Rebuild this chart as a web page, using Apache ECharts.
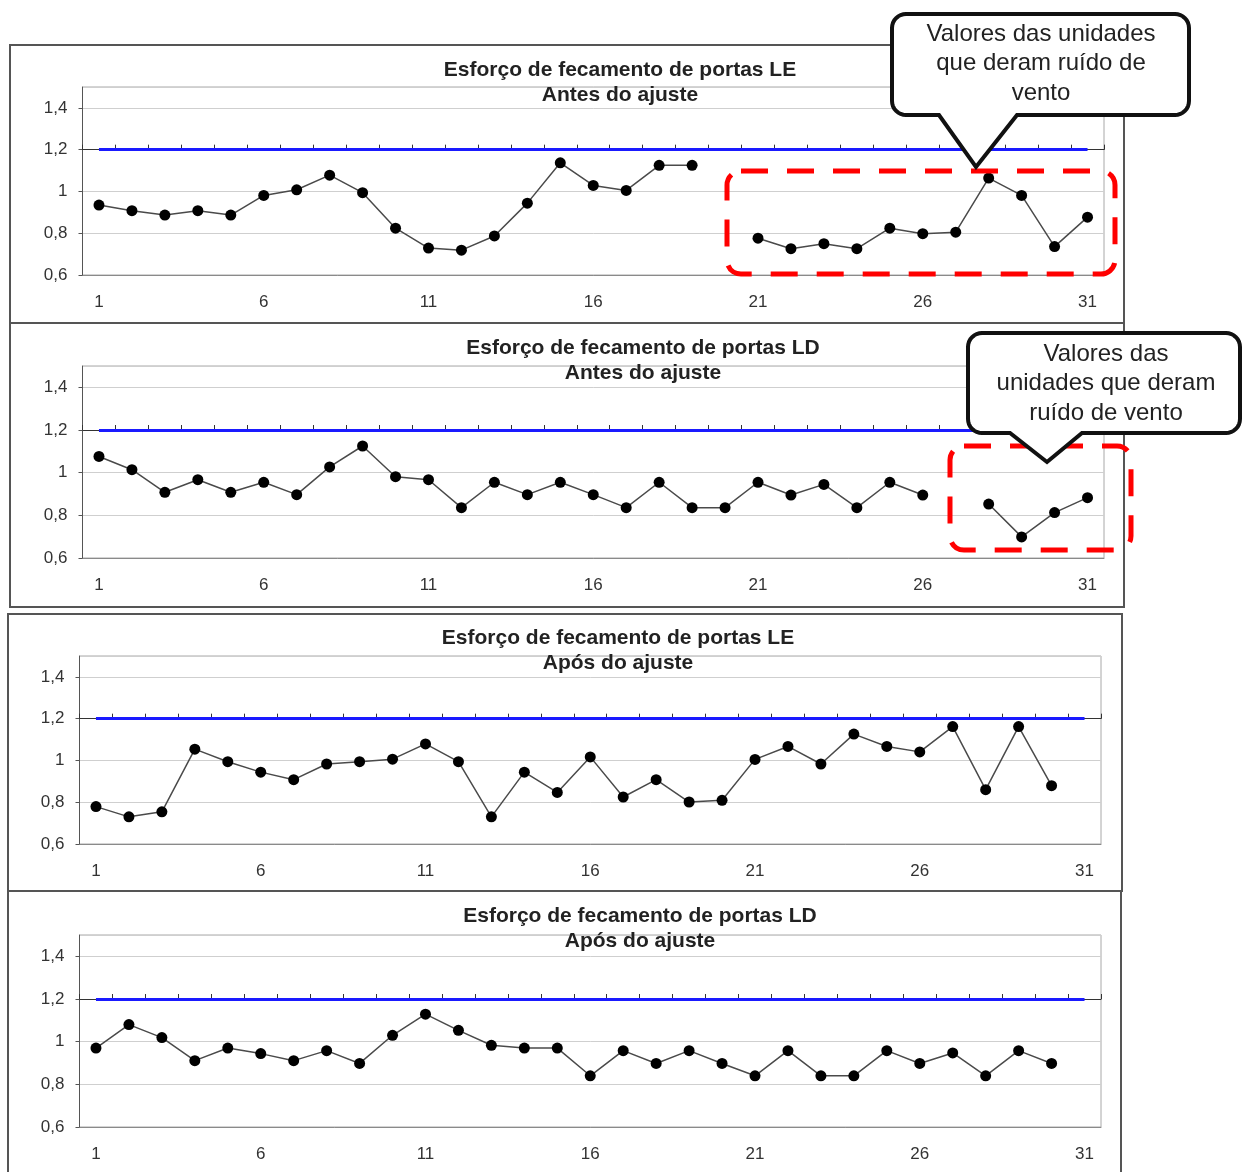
<!DOCTYPE html>
<html>
<head>
<meta charset="utf-8">
<script src="https://cdn.jsdelivr.net/npm/echarts@6/dist/echarts.min.js"></script>
<style>
  html, body { margin: 0; padding: 0; background: #fff; }
  #chart { width: 1242px; height: 1172px; }
</style>
</head>
<body>
<div id="chart"></div>
<script>
// ---------- data ----------
const CATS = ['1','2','3','4','5','6','7','8','9','10','11','12','13','14','15','16','17','18','19','20','21','22','23','24','25','26','27','28','29','30','31'];
const Y_MIN = 0.6, Y_MAX = 1.5, Y_STEP = 0.2;
const LIMIT = 1.2;

const LE_ANTES = [0.935,0.908,0.887,0.908,0.887,0.981,1.008,1.078,0.994,0.824,0.729,0.719,0.787,0.944,1.137,1.029,1.005,1.125,1.125,null,0.776,0.726,0.750,0.726,0.824,0.798,0.805,1.064,0.981,0.736,0.877];
const LD_ANTES = [1.076,1.014,0.908,0.967,0.908,0.955,0.897,1.027,1.125,0.981,0.967,0.836,0.955,0.897,0.955,0.897,0.836,0.955,0.836,0.836,0.955,0.895,0.945,0.836,0.955,0.895,null,0.853,0.699,0.813,0.883];
const LE_APOS  = [0.779,0.730,0.754,1.054,0.994,0.944,0.908,0.983,0.994,1.006,1.079,0.994,0.730,0.944,0.847,1.017,0.825,0.908,0.801,0.809,1.005,1.067,0.983,1.126,1.067,1.041,1.162,0.860,1.162,0.879,null];
const LD_APOS  = [0.970,1.080,1.019,0.911,0.970,0.944,0.911,0.958,0.898,1.030,1.129,1.053,0.983,0.970,0.970,0.840,0.958,0.898,0.958,0.898,0.840,0.958,0.840,0.840,0.958,0.898,0.947,0.840,0.958,0.898,null];

const TITLES = [
  ['Esforço de fecamento de portas LE', 'Antes do ajuste'],
  ['Esforço de fecamento de portas LD', 'Antes do ajuste'],
  ['Esforço de fecamento de portas LE', 'Após do ajuste'],
  ['Esforço de fecamento de portas LD', 'Após do ajuste']
];
const CALLOUT_1 = ['Valores das unidades', 'que deram ruído de', 'vento'];
const CALLOUT_2 = ['Valores das', 'unidades que deram', 'ruído de vento'];

// ---------- layout ----------
const FONT = '"Liberation Sans", Arial, sans-serif';
const PANELS = [
  { data: LE_ANTES, grid: {left: 82.5, top: 87,  width: 1021.5, height: 188}, box: {x: 10, y: 45,  width: 1114, height: 278}, tx: 620, ty: 70 },
  { data: LD_ANTES, grid: {left: 82.5, top: 366, width: 1021.5, height: 192}, box: {x: 10, y: 323, width: 1114, height: 284}, tx: 643, ty: 348 },
  { data: LE_APOS,  grid: {left: 79.5, top: 656, width: 1021.5, height: 188}, box: {x: 8,  y: 614, width: 1114, height: 277}, tx: 618, ty: 638 },
  { data: LD_APOS,  grid: {left: 79.5, top: 935, width: 1021.5, height: 192}, box: {x: 8,  y: 891, width: 1113, height: 300}, tx: 640, ty: 916 }
];

const grids = [], xAxes = [], yAxes = [], series = [], graphics = [];

function fmtY(v) {
  if (Math.abs(v - Y_MAX) < 1e-6) return '';
  return String(+(+v).toFixed(1)).replace('.', ',');
}

PANELS.forEach((p, i) => {
  grids.push(Object.assign({ show: true, borderColor: '#a8a8a8', borderWidth: 1, backgroundColor: '#fff' }, p.grid));
  xAxes.push({
    type: 'category', gridIndex: i, data: CATS, position: 'bottom', boundaryGap: true,
    axisLine: { show: true, onZero: false, lineStyle: { color: '#8a8a8a', width: 1 } },
    axisTick: { show: false },
    axisLabel: { interval: 4, fontSize: 17, color: '#333', fontFamily: FONT, margin: 19 },
    splitLine: { show: false }
  });
  const crossOffset = -(p.grid.height * (Y_MAX - LIMIT) / (Y_MAX - Y_MIN));
  xAxes.push({
    type: 'category', gridIndex: i, data: CATS, position: 'top', offset: crossOffset, boundaryGap: true,
    axisLine: { show: true, onZero: false, lineStyle: { color: '#333', width: 1 } },
    axisTick: { show: true, interval: 0, length: 5, inside: false, lineStyle: { color: '#333', width: 1 } },
    axisLabel: { show: false },
    splitLine: { show: false }
  });
  yAxes.push({
    type: 'value', gridIndex: i, min: Y_MIN, max: Y_MAX, interval: Y_STEP,
    axisLine: { show: true, lineStyle: { color: '#555', width: 1 } },
    axisTick: { show: true, length: 4, lineStyle: { color: '#555' } },
    axisLabel: { fontSize: 17, color: '#333', fontFamily: FONT, margin: 15, formatter: fmtY, showMaxLabel: false },
    splitLine: { show: true, lineStyle: { color: '#cfcfcf', width: 1 } }
  });
  series.push({
    type: 'line', xAxisIndex: i * 2, yAxisIndex: i, data: p.data,
    connectNulls: false, symbol: 'circle', symbolSize: 11, showSymbol: true,
    itemStyle: { color: '#000' },
    lineStyle: { color: '#4a4a4a', width: 1.5 },
    animation: false, z: 4,
    markLine: {
      silent: true, symbol: ['none', 'none'], animation: false,
      label: { show: false },
      lineStyle: { color: '#1a1aff', width: 3, type: 'solid' },
      data: [[ { coord: [CATS[0], LIMIT] }, { coord: [CATS[CATS.length - 1], LIMIT] } ]]
    }
  });
  graphics.push({ type: 'rect', z: 1, shape: p.box, style: { fill: null, stroke: '#555', lineWidth: 2 } });
  graphics.push({ type: 'text', z: 5, x: p.tx, y: p.ty, style: { text: TITLES[i][0], fill: '#222', font: 'bold 21px ' + FONT, textAlign: 'center', textVerticalAlign: 'middle' } });
  graphics.push({ type: 'text', z: 5, x: p.tx, y: p.ty + 25.5, style: { text: TITLES[i][1], fill: '#222', font: 'bold 21px ' + FONT, textAlign: 'center', textVerticalAlign: 'middle' } });
});

// red dashed highlight boxes
graphics.push({ type: 'rect', z: 50, shape: { x: 727, y: 171, width: 388, height: 103, r: 14 }, style: { fill: null, stroke: '#ff0000', lineWidth: 5, lineDash: [27, 19] } });
graphics.push({ type: 'rect', z: 50, shape: { x: 950, y: 446, width: 181, height: 104, r: 14 }, style: { fill: null, stroke: '#ff0000', lineWidth: 5, lineDash: [27, 19] } });

// callout outline as polygon (rounded corners sampled)
function calloutPoints(x0, y0, x1, y1, r, b1, b2, tx, ty) {
  const pts = [];
  function arc(cx, cy, a0, a1) {
    for (let k = 0; k <= 8; k++) {
      const a = a0 + (a1 - a0) * k / 8;
      pts.push([cx + r * Math.cos(a), cy + r * Math.sin(a)]);
    }
  }
  const PI = Math.PI;
  arc(x0 + r, y0 + r, PI, 1.5 * PI);
  arc(x1 - r, y0 + r, 1.5 * PI, 2 * PI);
  arc(x1 - r, y1 - r, 0, 0.5 * PI);
  pts.push([b2, y1], [tx, ty], [b1, y1]);
  arc(x0 + r, y1 - r, 0.5 * PI, PI);
  return pts;
}
graphics.push({ type: 'polygon', z: 100, shape: { points: calloutPoints(892, 14, 1189, 115, 14, 939, 1017, 976, 167) },
  style: { fill: '#fff', stroke: '#111', lineWidth: 4, lineJoin: 'miter' } });
CALLOUT_1.forEach((t, k) => graphics.push({ type: 'text', z: 101, x: 1041, y: 34 + k * 29.5,
  style: { text: t, fill: '#222', font: '24px ' + FONT, textAlign: 'center', textVerticalAlign: 'middle' } }));

graphics.push({ type: 'polygon', z: 100, shape: { points: calloutPoints(968, 333, 1240, 433, 14, 1010, 1082, 1047, 462) },
  style: { fill: '#fff', stroke: '#111', lineWidth: 4, lineJoin: 'miter' } });
CALLOUT_2.forEach((t, k) => graphics.push({ type: 'text', z: 101, x: 1106, y: 354 + k * 29.5,
  style: { text: t, fill: '#222', font: '24px ' + FONT, textAlign: 'center', textVerticalAlign: 'middle' } }));

const chart = echarts.init(document.getElementById('chart'), null, { renderer: 'canvas' });
chart.setOption({
  backgroundColor: '#fff',
  animation: false,
  grid: grids,
  xAxis: xAxes,
  yAxis: yAxes,
  series: series,
  graphic: graphics
});
</script>
</body>
</html>
